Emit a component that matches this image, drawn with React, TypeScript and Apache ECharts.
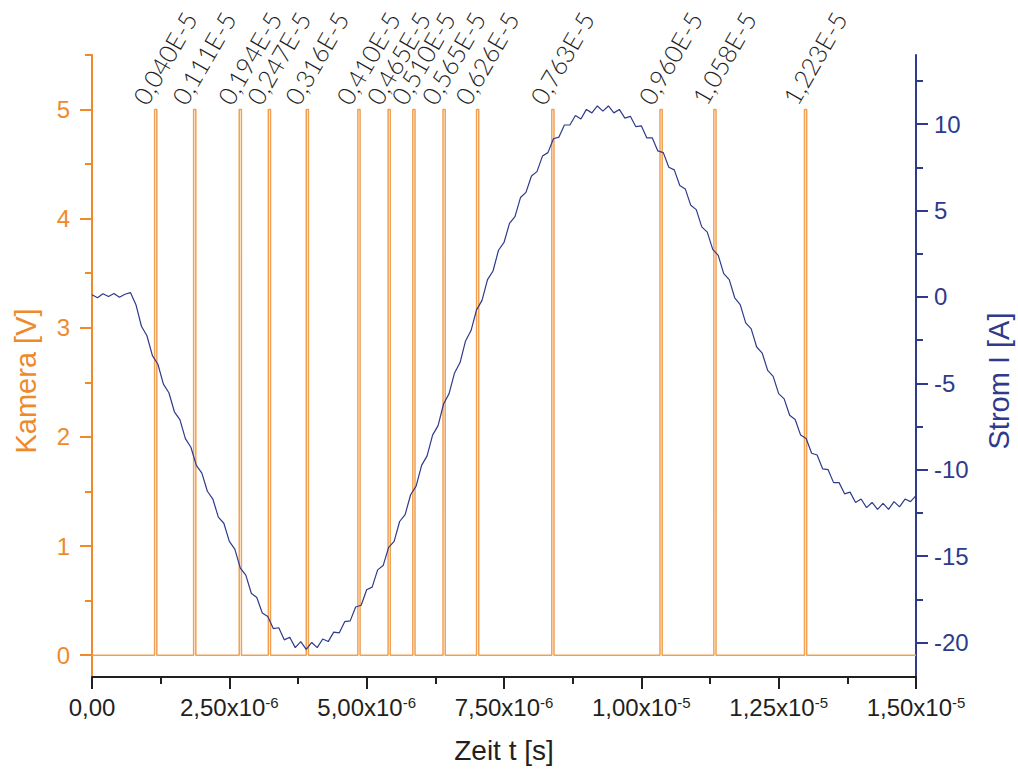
import React, { useEffect, useRef } from 'react';
import * as echarts from 'echarts';

// Time axis values are in microseconds (labels shown as x10^-6 / x10^-5 s)
const X_TICK_VALUES = [0, 2.5, 5, 7.5, 10, 12.5, 15];
const CAMERA_TICKS = [0, 1, 2, 3, 4, 5];
const CAMERA_MINOR_TICKS = [0.5, 1.5, 2.5, 3.5, 4.5, 5.5];
const CURRENT_TICKS = [-20, -15, -10, -5, 0, 5, 10];
const CURRENT_MINOR_TICKS = [-17.5, -12.5, -7.5, -2.5, 2.5, 7.5, 12.5];

// Camera trigger pulses (time of pulse in µs) and their annotations
const pulseTimesUs = [1.14, 1.85, 2.68, 3.21, 3.9, 4.84, 5.39, 5.84, 6.39, 7.0, 8.37, 10.34, 11.32, 12.97];
const pulseLabels = [
  '0,040E-5', '0,111E-5', '0,194E-5', '0,247E-5', '0,316E-5', '0,410E-5', '0,465E-5',
  '0,510E-5', '0,565E-5', '0,626E-5', '0,763E-5', '0,960E-5', '1,058E-5', '1,223E-5',
];
const PULSE_HIGH = 5;
const PULSE_WIDTH_US = 0.04;

// Current I [A] vs time [µs]
const currentData: [number, number][] = [
  [0.0, 0.12], [0.1, -0.05], [0.2, 0.18], [0.3, 0.02], [0.4, 0.2], [0.5, -0.02], [0.6, 0.15], [0.7, 0.25],
  [0.8, -0.45], [0.9, -1.7], [1.0, -2.25], [1.1, -3.4], [1.2, -3.9], [1.3, -5.05], [1.4, -5.55], [1.5, -6.65],
  [1.6, -7.1], [1.7, -8.2], [1.8, -8.7], [1.9, -9.75], [2.0, -10.2], [2.1, -11.25], [2.2, -11.7], [2.3, -12.75],
  [2.4, -13.1], [2.5, -14.15], [2.6, -14.6], [2.7, -15.7], [2.8, -16.1], [2.9, -17.15], [3.0, -17.4], [3.1, -18.3],
  [3.2, -18.5], [3.3, -19.2], [3.4, -19.15], [3.5, -19.85], [3.6, -19.7], [3.7, -20.3], [3.8, -19.95], [3.9, -20.4],
  [4.0, -20.0], [4.1, -20.3], [4.2, -19.8], [4.3, -19.95], [4.4, -19.4], [4.5, -19.45], [4.6, -18.8], [4.7, -18.75],
  [4.8, -17.95], [4.9, -17.85], [5.0, -16.95], [5.1, -16.8], [5.2, -15.8], [5.3, -15.55], [5.4, -14.5], [5.5, -14.15],
  [5.6, -13.0], [5.7, -12.6], [5.8, -11.45], [5.9, -10.95], [6.0, -9.75], [6.1, -9.2], [6.2, -8.0], [6.3, -7.45],
  [6.4, -6.2], [6.5, -5.6], [6.6, -4.4], [6.7, -3.8], [6.8, -2.55], [6.9, -1.95], [7.0, -0.75], [7.1, -0.2],
  [7.2, 1.0], [7.3, 1.5], [7.4, 2.7], [7.5, 3.15], [7.6, 4.25], [7.7, 4.65], [7.8, 5.75], [7.9, 6.05],
  [8.0, 7.0], [8.1, 7.25], [8.2, 8.15], [8.3, 8.35], [8.4, 9.15], [8.5, 9.25], [8.6, 9.95], [8.7, 9.95],
  [8.8, 10.5], [8.9, 10.3], [9.0, 10.85], [9.1, 10.65], [9.2, 11.05], [9.3, 10.75], [9.4, 11.05], [9.5, 10.65],
  [9.6, 10.85], [9.7, 10.35], [9.8, 10.45], [9.9, 9.85], [10.0, 9.9], [10.1, 9.2], [10.2, 9.2], [10.3, 8.45],
  [10.4, 8.35], [10.5, 7.5], [10.6, 7.35], [10.7, 6.45], [10.8, 6.25], [10.9, 5.3], [11.0, 5.05], [11.1, 4.05],
  [11.2, 3.75], [11.3, 2.75], [11.4, 2.4], [11.5, 1.35], [11.6, 1.0], [11.7, -0.05], [11.8, -0.45], [11.9, -1.5],
  [12.0, -1.85], [12.1, -2.9], [12.2, -3.25], [12.3, -4.25], [12.4, -4.6], [12.5, -5.6], [12.6, -5.9], [12.7, -6.85],
  [12.8, -7.1], [12.9, -8.0], [13.0, -8.2], [13.1, -9.05], [13.2, -9.15], [13.3, -9.95], [13.4, -10.0], [13.5, -10.75],
  [13.6, -10.75], [13.7, -11.4], [13.8, -11.3], [13.9, -11.9], [14.0, -11.7], [14.1, -12.2], [14.2, -11.9], [14.3, -12.3],
  [14.4, -11.95], [14.5, -12.3], [14.6, -11.85], [14.7, -12.15], [14.8, -11.7], [14.9, -11.85], [15.0, -11.5],
];

const ORANGE = '#EE8A2C';
const PULSE_COLOR = '#F0A053';
const NAVY = '#2E3A8C';
const DARK = '#231f20';
const FONT = 'Liberation Sans, Arial, sans-serif';

function buildCameraSeries(): [number, number][] {
  const pts: [number, number][] = [[0, 0]];
  pulseTimesUs.forEach((t) => {
    pts.push([t, 0], [t, PULSE_HIGH], [t + PULSE_WIDTH_US, PULSE_HIGH], [t + PULSE_WIDTH_US, 0]);
  });
  pts.push([15, 0]);
  return pts;
}

function formatTime(v: number): string {
  if (v === 0) return '0,00';
  const exp = v >= 10 ? -5 : -6;
  const mant = v >= 10 ? v / 10 : v;
  return mant.toFixed(2).replace('.', ',') + 'x10{sup|' + exp + '}';
}

export default function App() {
  const ref = useRef<HTMLDivElement>(null);
  useEffect(() => {
    if (!ref.current) return;
    const chart = echarts.init(ref.current, undefined, { renderer: 'svg' });
    const minorAxisBase = {
      axisLine: { show: false, onZero: false },
      axisLabel: { show: false },
      splitLine: { show: false },
    };
    chart.setOption({
      animation: false,
      backgroundColor: '#ffffff',
      grid: { left: 92, right: 102, top: 55, bottom: 96, containLabel: false, outerBoundsMode: 'none' },
      xAxis: {
        type: 'value',
        min: 0,
        max: 15,
        interval: 2.5,
        position: 'bottom',
        axisLine: { show: true, onZero: false, lineStyle: { color: DARK, width: 2 } },
        axisTick: { show: true, length: 12, lineStyle: { color: DARK, width: 2 }, customValues: X_TICK_VALUES },
        minorTick: { show: true, splitNumber: 2, length: 7, lineStyle: { color: DARK, width: 2 } },
        splitLine: { show: false },
        axisLabel: {
          margin: 18,
          color: DARK,
          fontSize: 24,
          fontFamily: FONT,
          customValues: X_TICK_VALUES,
          formatter: formatTime,
          rich: {
            sup: { fontSize: 15, color: DARK, fontFamily: FONT, verticalAlign: 'top', lineHeight: 14, padding: [0, 0, 12, 0] },
          },
        },
        name: 'Zeit t [s]',
        nameLocation: 'middle',
        nameGap: 59,
        nameTextStyle: { fontSize: 28, color: DARK, fontFamily: FONT },
      },
      yAxis: [
        {
          type: 'value',
          position: 'left',
          min: -0.2,
          max: 5.5,
          axisLine: { show: true, onZero: false, lineStyle: { color: ORANGE, width: 2 } },
          axisTick: { show: true, length: 12, lineStyle: { color: ORANGE, width: 2 }, customValues: CAMERA_TICKS },
          axisLabel: { margin: 22, color: ORANGE, fontSize: 24, fontFamily: FONT, customValues: CAMERA_TICKS },
          splitLine: { show: false },
          name: 'Kamera [V]',
          nameLocation: 'middle',
          nameRotate: 90,
          nameGap: 52,
          nameTextStyle: { fontSize: 29, color: ORANGE, fontFamily: FONT, padding: [0, 30, 0, 0] },
        },
        {
          type: 'value',
          position: 'right',
          min: -22,
          max: 14,
          axisLine: { show: true, onZero: false, lineStyle: { color: NAVY, width: 2 } },
          axisTick: { show: true, length: 12, lineStyle: { color: NAVY, width: 2 }, customValues: CURRENT_TICKS },
          axisLabel: { margin: 18, color: NAVY, fontSize: 24, fontFamily: FONT, customValues: CURRENT_TICKS },
          splitLine: { show: false },
          name: 'Strom I [A]',
          nameLocation: 'middle',
          nameRotate: 90,
          nameGap: 68,
          nameTextStyle: { fontSize: 29, color: NAVY, fontFamily: FONT, padding: [0, 30, 0, 0] },
        },
        {
          ...minorAxisBase,
          type: 'value',
          position: 'left',
          min: -0.2,
          max: 5.5,
          axisTick: { show: true, length: 7, lineStyle: { color: ORANGE, width: 2 }, customValues: CAMERA_MINOR_TICKS },
        },
        {
          ...minorAxisBase,
          type: 'value',
          position: 'right',
          min: -22,
          max: 14,
          axisTick: { show: true, length: 7, lineStyle: { color: NAVY, width: 2 }, customValues: CURRENT_MINOR_TICKS },
        },
      ],
      series: [
        {
          name: 'Kamera',
          type: 'line',
          yAxisIndex: 0,
          data: buildCameraSeries(),
          showSymbol: false,
          symbol: 'none',
          lineStyle: { color: PULSE_COLOR, width: 1.5 },
          silent: true,
          z: 2,
        },
        {
          name: 'Pulse labels',
          type: 'scatter',
          yAxisIndex: 0,
          symbolSize: 1,
          itemStyle: { color: 'rgba(0,0,0,0)' },
          silent: true,
          data: pulseTimesUs.map((t, i) => ({ name: pulseLabels[i], value: [t, PULSE_HIGH] })),
          label: {
            show: true,
            formatter: '{b}',
            position: [-15, -7],
            align: 'left',
            verticalAlign: 'middle',
            rotate: 60,
            color: '#1e1e1e',
            opacity: 1,
            fontSize: 25,
            fontFamily: 'Lato, Liberation Sans, sans-serif',
            fontWeight: 300,
          },
          z: 3,
        },
        {
          name: 'Strom',
          type: 'line',
          yAxisIndex: 1,
          data: currentData,
          showSymbol: false,
          symbol: 'none',
          lineStyle: { color: NAVY, width: 1.2 },
          silent: true,
          z: 4,
        },
      ],
    });
    return () => chart.dispose();
  }, []);
  return (
    <div
      ref={ref}
      style={{ position: 'absolute', left: 0, top: 0, width: 1018, height: 773, background: '#fff' }}
    />
  );
}
